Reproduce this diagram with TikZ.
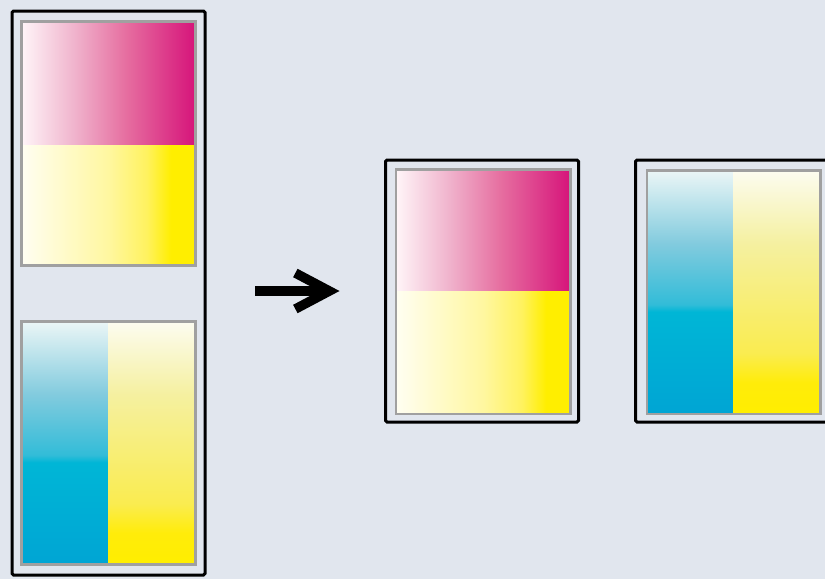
\documentclass[tikz,border=0pt]{standalone}
\usepackage{xcolor}
\usetikzlibrary{positioning, arrows.meta}

\definecolor{bgblue}{RGB}{225,230,238}
\definecolor{pagegray}{RGB}{160,160,160}
\definecolor{magA}{RGB}{255,245,248}
\definecolor{magB}{RGB}{240,180,205}
\definecolor{magC}{RGB}{230,110,160}
\definecolor{magD}{RGB}{214,20,122}
\definecolor{yelA}{RGB}{255,254,242}
\definecolor{yelB}{RGB}{255,247,160}
\definecolor{yelC}{RGB}{255,242,95}
\definecolor{yelD}{RGB}{255,238,0}
\definecolor{cyaA}{RGB}{235,246,246}
\definecolor{cyaB}{RGB}{130,203,222}
\definecolor{cyaC}{RGB}{50,188,216}
\definecolor{cyaD}{RGB}{0,182,214}
\definecolor{cyaE}{RGB}{0,165,212}
\definecolor{yvA}{RGB}{252,252,240}
\definecolor{yvB}{RGB}{245,240,160}
\definecolor{yvC}{RGB}{250,236,80}
\definecolor{yvD}{RGB}{255,236,10}

\pgfdeclarehorizontalshading{magentaH}{100bp}{color(0bp)=(magA); color(25bp)=(magA); color(40bp)=(magB); color(55bp)=(magC); color(75bp)=(magD); color(100bp)=(magD)}
\pgfdeclarehorizontalshading{yellowH}{100bp}{color(0bp)=(yelA); color(25bp)=(yelA); color(50bp)=(yelB); color(61bp)=(yelC); color(68bp)=(yelD); color(100bp)=(yelD)}
\pgfdeclareverticalshading{cyanV}{100bp}{color(0bp)=(cyaE); color(25bp)=(cyaE); color(46bp)=(cyaD); color(47.5bp)=(cyaC); color(60bp)=(cyaB); color(75bp)=(cyaA); color(100bp)=(cyaA)}
\pgfdeclareverticalshading{yellowV}{100bp}{color(0bp)=(yelD); color(25bp)=(yelD); color(31.5bp)=(yvD); color(37.5bp)=(yvC); color(60bp)=(yvB); color(75bp)=(yvA); color(100bp)=(yvA)}

\begin{document}
\begin{tikzpicture}[x=1pt, y=-1pt,
    frame/.style={draw=black, line width=3pt, rounded corners=1.5pt, inner sep=0pt, outer sep=0pt, minimum width=193pt},
    pageline/.style={draw=pagegray, line width=2.2pt},
    fatarrow/.style={line width=10pt, -{Straight Barb[length=34pt, width=36pt, line width=9.5pt]}}]
    \fill[bgblue] (0,0) rectangle (825,579);
    \useasboundingbox (0,0) rectangle (825,579);

    % left frame, two pages
    \node[frame, minimum height=564pt] (left) at (108.5,293) {};
    \shade[shading=magentaH] (21.5,21.5) rectangle (195.5,145);
    \shade[shading=yellowH] (21.5,145) rectangle (195.5,265.5);
    \draw[pageline] (21.5,21.5) rectangle (195.5,265.5);

    \shade[shading=cyanV] (21.5,321.5) rectangle (108,564.5);
    \shade[shading=yellowV] (108,321.5) rectangle (195.5,564.5);
    \draw[pageline] (21.5,321.5) rectangle (195.5,564.5);

    % middle frame
    \node[frame, minimum height=262pt] (mid) at (482,291) {};
    \shade[shading=magentaH] (396,169.5) rectangle (570.5,291.5);
    \shade[shading=yellowH] (396,291.5) rectangle (570.5,414);
    \draw[pageline] (396,169.5) rectangle (570.5,414);

    % right frame
    \node[frame, minimum height=262pt] (right) at (732,291) {};
    \shade[shading=cyanV] (647,170.5) rectangle (733.5,414);
    \shade[shading=yellowV] (733.5,170.5) rectangle (820.5,414);
    \draw[pageline] (647,170.5) rectangle (820.5,414);

    \draw[fatarrow] ([xshift=50pt]left.east |- mid.west) -- ([xshift=-46pt]mid.west);
\end{tikzpicture}
\end{document}
